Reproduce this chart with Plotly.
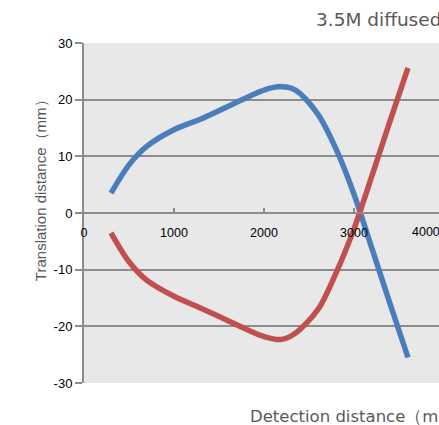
import plotly.graph_objects as go

# detection distance (mm) and translation distance (mm)
distance = [300, 500, 700, 1000, 1300, 1600, 2000, 2200, 2350, 2600, 2800, 3000, 3200, 3400, 3600]
blue_shift = [3.5, 8.5, 11.8, 14.7, 16.6, 18.8, 21.7, 22.3, 21.7, 17.4, 11.3, 3.3, -6.3, -16.0, -25.5]
red_shift = [-3.5, -8.6, -11.9, -14.7, -16.8, -19.0, -21.8, -22.3, -21.2, -17.0, -10.6, -2.8, 6.6, 16.2, 25.6]
y_ticks = [-30, -20, -10, 0, 10, 20, 30]
y_labels = ["-30", "-20", "-10", "0", "10", "20", "30"]
x_ticks = [0, 1000, 2000, 3000, 4000]
x_labels = ["0", "1000", "2000", "3000", ""]  # last label is pulled inside, drawn below

font = "Liberation Sans, Arial, sans-serif"
grid = "#8c8c8c"

fig = go.Figure()
fig.add_trace(go.Scatter(x=distance, y=blue_shift, mode="lines",
                         line=dict(color="#4a7ebb", width=5.5, shape="spline", smoothing=0.9),
                         showlegend=False))
fig.add_trace(go.Scatter(x=distance, y=red_shift, mode="lines",
                         line=dict(color="#c0504d", width=5.5, shape="spline", smoothing=0.9),
                         showlegend=False))

fig.update_layout(
    width=460, height=425,
    margin=dict(l=84, r=16, t=43, b=42, autoexpand=False),
    paper_bgcolor="white",
    plot_bgcolor="#e8e8e8",
    font=dict(family=font, size=12, color="#000000"),
    title=dict(text="3.5M diffused reflection", x=(316 - 84) / 360, xref="paper", xanchor="left",
               y=0.953, yanchor="middle",
               font=dict(family="DejaVu Sans, sans-serif", size=18.5, color="#595959")),
    xaxis=dict(range=[0, 4000], tickvals=x_ticks, ticktext=x_labels, anchor="free", position=0.5,
               showline=True, linecolor=grid, linewidth=2, automargin=False,
               ticks="inside", ticklen=4, tickcolor=grid, tickwidth=1.5,
               ticklabelstandoff=8,
               showgrid=False, zeroline=False, tickfont=dict(size=12.5)),
    yaxis=dict(range=[-30, 30], tickvals=y_ticks, ticktext=y_labels, automargin=False,
               showline=True, linecolor=grid, linewidth=2,
               ticks="outside", ticklen=7, tickcolor=grid, tickwidth=1.5,
               showgrid=True, gridcolor=grid, gridwidth=1.5, zeroline=False,
               tickfont=dict(size=13)),
    annotations=[
        dict(text="4000", x=x_ticks[-1], y=0, xref="x", yref="y", xanchor="right", yanchor="middle",
             xshift=-2, yshift=-19, showarrow=False, font=dict(size=12.5, color="#000000")),
        dict(text="Detection distance（mm）", xref="paper", yref="paper", x=(248 - 84) / 360, y=-0.098,
             xanchor="left", yanchor="middle", showarrow=False,
             font=dict(family="DejaVu Sans, sans-serif", size=16.5, color="#595959")),
        dict(text="Translation distance（mm）", xref="paper", yref="paper", x=-44 / 360, y=0.576,
             xanchor="center", yanchor="middle", textangle=-90, showarrow=False,
             font=dict(size=15, color="#595959")),
    ],
)

fig.write_html("out.html", config={"displayModeBar": False},
               post_script="document.body.style.margin='0';document.body.style.overflow='hidden';")
